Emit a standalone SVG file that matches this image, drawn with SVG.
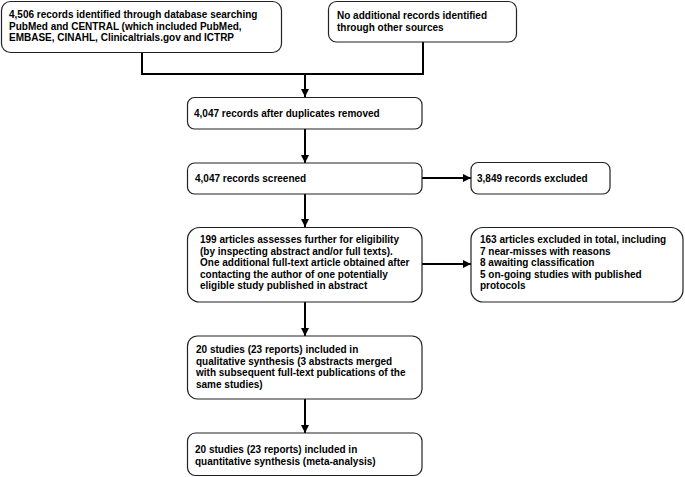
<svg xmlns="http://www.w3.org/2000/svg" width="685" height="477" viewBox="0 0 685 477">
<defs>
<style>
.box{fill:#fff;stroke:#222;stroke-width:1.2}
text{font-family:"Liberation Sans",Arial,sans-serif;font-size:10px;font-weight:bold;fill:#000}
.c{fill:none;stroke:#000;stroke-width:2}
</style>
<marker id="ah" viewBox="0 0 10 10" refX="10" refY="5" markerWidth="4" markerHeight="4" orient="auto" markerUnits="strokeWidth">
<path d="M0,0 L10,5 L0,10 z" fill="#000"/>
</marker>
</defs>
<rect width="685" height="477" fill="#fff"/>
<g id="connectors">
<polyline class="c" points="142,53 142,74 423,74 423,42"/>
<line class="c" x1="305" y1="74" x2="305" y2="97" marker-end="url(#ah)"/>
<line class="c" x1="305" y1="129" x2="305" y2="163" marker-end="url(#ah)"/>
<line class="c" x1="422" y1="178" x2="471" y2="178" marker-end="url(#ah)"/>
<line class="c" x1="305" y1="194" x2="305" y2="227" marker-end="url(#ah)"/>
<line class="c" x1="422" y1="264" x2="471" y2="264" marker-end="url(#ah)"/>
<line class="c" x1="305" y1="302" x2="305" y2="336" marker-end="url(#ah)"/>
<line class="c" x1="305" y1="399" x2="305" y2="433" marker-end="url(#ah)"/>
</g>
<g id="n1">
<rect class="box" x="1.5" y="1.5" width="280" height="51" rx="9"/>
<text x="9" y="18">4,506 records identified through database searching</text>
<text x="9" y="29.5">PubMed and CENTRAL (which included PubMed,</text>
<text x="9" y="41">EMBASE,  CINAHL, Clinicaltrials.gov and ICTRP</text>
</g>
<g id="n2">
<rect class="box" x="328.5" y="1.5" width="188" height="40.5" rx="8"/>
<text x="337" y="19">No additional records identified</text>
<text x="337" y="30.5">through other sources</text>
</g>
<g id="n3">
<rect class="box" x="187.5" y="97.5" width="234.5" height="31.5" rx="7"/>
<text x="194" y="116.5">4,047 records after duplicates removed</text>
</g>
<g id="n4">
<rect class="box" x="187.5" y="163" width="234.5" height="31" rx="7"/>
<text x="195" y="181.5">4,047 records screened</text>
</g>
<g id="n5">
<rect class="box" x="471" y="162.5" width="139" height="31.5" rx="7"/>
<text x="477" y="181.5">3,849 records excluded</text>
</g>
<g id="n6">
<rect class="box" x="187.5" y="227.5" width="234.5" height="74.5" rx="12"/>
<text x="200" y="243">199 articles assesses further for eligibility</text>
<text x="200" y="254.5">(by inspecting abstract and/or full texts).</text>
<text x="200" y="266">One additional full-text article obtained after</text>
<text x="200" y="277.5">contacting the author of one potentially</text>
<text x="200" y="289">eligible study published in abstract</text>
</g>
<g id="n7">
<rect class="box" x="471" y="227.5" width="212" height="74.5" rx="12"/>
<text x="480" y="243">163 articles excluded in total, including</text>
<text x="480" y="254.5">7 near-misses with reasons</text>
<text x="480" y="266">8 awaiting classification</text>
<text x="480" y="277.5">5 on-going studies with published</text>
<text x="480" y="289">protocols</text>
</g>
<g id="n8">
<rect class="box" x="187.5" y="336" width="234.5" height="63" rx="10"/>
<text x="196" y="353">20 studies (23 reports) included in</text>
<text x="196" y="364.5">qualitative synthesis (3 abstracts merged</text>
<text x="196" y="376">with subsequent full-text publications of the</text>
<text x="196" y="387.5">same studies)</text>
</g>
<g id="n9">
<rect class="box" x="187.5" y="433" width="234.5" height="42.5" rx="8"/>
<text x="195" y="453">20 studies (23 reports) included in</text>
<text x="195" y="464.5">quantitative synthesis (meta-analysis)</text>
</g>
</svg>
